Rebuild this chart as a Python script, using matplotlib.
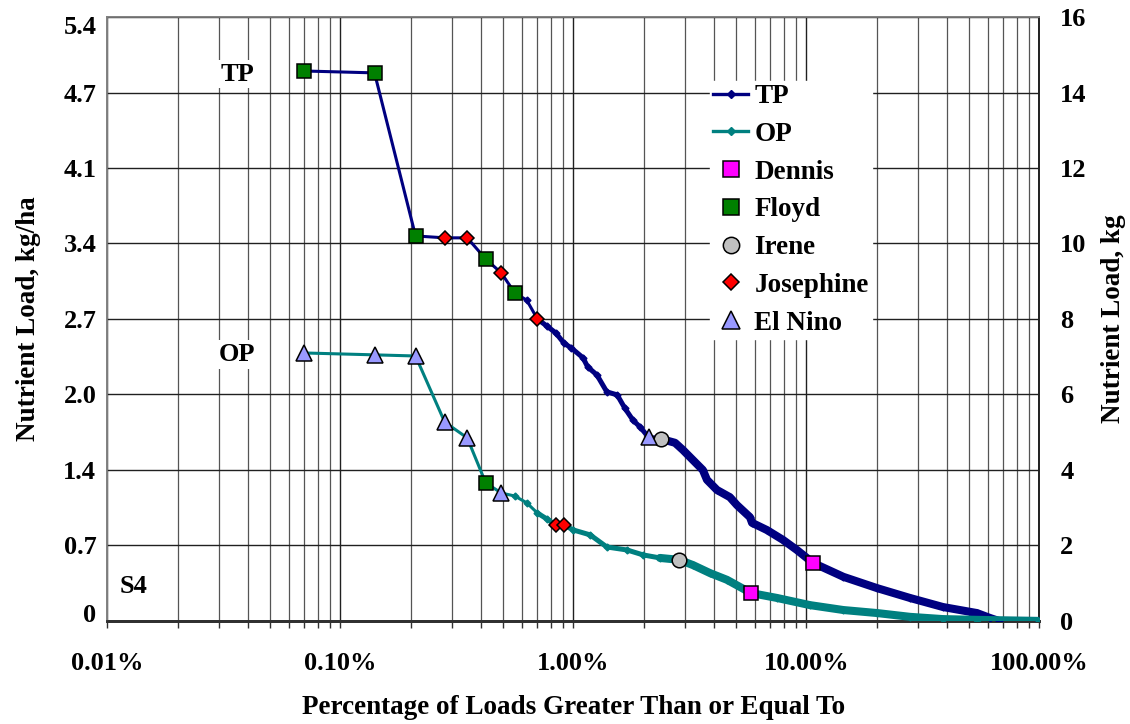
import numpy as np
import matplotlib
matplotlib.use("Agg")
import matplotlib.pyplot as plt
from matplotlib.ticker import FixedLocator, FixedFormatter, LogLocator, NullFormatter
from matplotlib.lines import Line2D
from matplotlib.transforms import ScaledTranslation

plt.rcParams['font.family'] = ['Liberation Serif', 'DejaVu Serif']
plt.rcParams['font.weight'] = 'bold'

# Exceedance curves: percentage of loads >= value, load in kg
tp_pct = [0.07, 0.14, 0.21, 0.28, 0.35, 0.42, 0.49, 0.56, 0.63, 0.70,
          0.77, 0.84, 0.91, 0.98, 1.10, 1.15, 1.26, 1.39, 1.54, 1.66,
          1.80, 1.93, 2.10, 2.38, 2.73, 2.95, 3.26, 3.59, 3.74, 4.13,
          4.69, 5.03, 5.72, 5.84, 6.76, 7.92, 9.10, 10.66, 14.4, 20.1,
          27.8, 38.5, 53.9, 61.3, 67.0, 100.0]
tp_kg = [14.57, 14.52, 10.20, 10.15, 10.15, 9.59, 9.22, 8.69, 8.50, 8.00,
         7.81, 7.63, 7.36, 7.23, 6.97, 6.73, 6.52, 6.07, 5.99, 5.64,
         5.32, 5.14, 4.87, 4.82, 4.72, 4.53, 4.26, 4.00, 3.74, 3.47,
         3.28, 3.07, 2.75, 2.60, 2.41, 2.15, 1.88, 1.54, 1.17, 0.87,
         0.61, 0.37, 0.21, 0.08, 0.0, 0.0]

op_pct = [0.07, 0.14, 0.21, 0.28, 0.35, 0.42, 0.49, 0.56, 0.63, 0.70,
          0.77, 0.84, 0.91, 1.00, 1.18, 1.39, 1.70, 1.99, 2.35, 2.84,
          3.26, 3.85, 4.56, 5.78, 7.47, 10.35, 14.4, 20.1, 27.8, 38.5,
          53.9, 100.0]
op_kg = [7.10, 7.05, 7.02, 5.27, 4.85, 3.66, 3.39, 3.31, 3.13, 2.86,
         2.70, 2.54, 2.54, 2.41, 2.28, 1.96, 1.88, 1.75, 1.67, 1.62,
         1.48, 1.27, 1.09, 0.74, 0.61, 0.42, 0.29, 0.21, 0.11, 0.05,
         0.03, 0.0]

# Storm events flagged on each curve (percent positions)
tp_events = {
    'Dennis': [10.66],
    'Floyd': [0.07, 0.14, 0.21, 0.42, 0.56],
    'Irene': [2.38],
    'Josephine': [0.28, 0.35, 0.49, 0.70],
    'El Nino': [2.10],
}
op_events = {
    'Dennis': [5.78],
    'Floyd': [0.42],
    'Irene': [2.84],
    'Josephine': [0.84, 0.91],
    'El Nino': [0.07, 0.14, 0.21, 0.28, 0.35, 0.49],
}

event_style = {
    'Dennis': dict(marker='s', color='#FF00FF', ms=10.5),
    'Floyd': dict(marker='s', color='#008000', ms=10.5),
    'Irene': dict(marker='o', color='#C0C0C0', ms=10.5),
    'Josephine': dict(marker='D', color='#FF0000', ms=7.5),
    'El Nino': dict(marker='^', color='#9999FF', ms=11.5),
}

x_ticks = [0.01, 0.1, 1, 10, 100]
x_labels = ['0.01%', '0.10%', '1.00%', '10.00%', '100.00%']
kg_ticks = [0, 2, 4, 6, 8, 10, 12, 14, 16]
kgha_labels = ['0', '0.7', '1.4', '2.0', '2.7', '3.4', '4.1', '4.7', '5.4']
KG_TO_KGHA = 5.4 / 16.0

TP_COLOR = '#000080'
OP_COLOR = '#008080'

fig = plt.figure(figsize=(11.3, 7.24), dpi=100)
ax = fig.add_axes([0.0951, 0.1423, 0.8248, 0.8342])
ax2 = ax.twinx()

ax.set_xscale('log')
ax.set_xlim(0.01, 100)
ax.set_ylim(0, 16 * KG_TO_KGHA)
ax2.set_ylim(0, 16)

# vertical grid on every decade subdivision
ax.xaxis.set_major_locator(FixedLocator(x_ticks))
ax.xaxis.set_major_formatter(FixedFormatter(x_labels))
ax.xaxis.set_minor_locator(LogLocator(base=10, subs=np.arange(2, 10)))
ax.xaxis.set_minor_formatter(NullFormatter())
ax.grid(which='major', axis='x', color='#202020', lw=1.0)
ax.grid(which='minor', axis='x', color='#555555', lw=0.9)
ax.tick_params(axis='x', which='both', direction='out', length=5, width=1.0,
               color='#303030', pad=17, labelsize=19)

ax.yaxis.set_major_locator(FixedLocator([v * KG_TO_KGHA for v in kg_ticks]))
ax.yaxis.set_major_formatter(FixedFormatter(kgha_labels))
ax.tick_params(axis='y', length=0, pad=8, labelsize=19)

# keep the end labels of the left scale inside the frame
yticks = ax.yaxis.get_major_ticks(len(kg_ticks))
for tk, dy in ((yticks[0], 8), (yticks[-1], -8)):
    tk.label1.set_transform(tk.label1.get_transform()
                            + ScaledTranslation(0, dy / 100, fig.dpi_scale_trans))

ax2.yaxis.set_major_locator(FixedLocator(kg_ticks))
ax2.tick_params(axis='y', length=0, pad=15, labelsize=19)
ax2.grid(axis='y', color='#202020', lw=1.0)
ax2.set_axisbelow(True)

for a in (ax, ax2):
    for side in ('left', 'top'):
        a.spines[side].set_color('#808080')
        a.spines[side].set_linewidth(1.2)
    a.spines['bottom'].set_color('#303030')
    a.spines['bottom'].set_linewidth(2.0)
    a.spines['right'].set_color('#202020')
    a.spines['right'].set_linewidth(1.2)


def draw_curve(pct, kg, color, z):
    pct = np.asarray(pct)
    kg = np.asarray(kg)
    ax2.plot(pct, kg, color=color, lw=2.2, marker='D', ms=3.5,
             mec=color, mfc=color, zorder=z, solid_joinstyle='round')
    # closely spaced ranks merge into a solid band
    mid = pct >= 0.7
    ax2.plot(pct[mid], kg[mid], color=color, lw=3.6, zorder=z,
             solid_capstyle='round', solid_joinstyle='round')
    dense = pct >= 2.3
    ax2.plot(pct[dense], kg[dense], color=color, lw=5.8, zorder=z,
             solid_capstyle='round', solid_joinstyle='round')


draw_curve(tp_pct, tp_kg, TP_COLOR, 3)
draw_curve(op_pct, op_kg, OP_COLOR, 4)


def draw_events(pct, kg, events):
    pct = np.asarray(pct)
    kg = np.asarray(kg)
    for name, xs in events.items():
        st = event_style[name]
        ys = [kg[np.argmin(np.abs(pct - x))] for x in xs]
        ax2.plot(xs, ys, ls='none', marker=st['marker'], ms=st['ms'],
                 mfc=st['color'], mec='black', mew=1.1, zorder=6)


draw_events(tp_pct, tp_kg, tp_events)
draw_events(op_pct, op_kg, op_events)

# legend
handles = [
    Line2D([], [], color=TP_COLOR, lw=2.4, marker='D', ms=4),
    Line2D([], [], color=OP_COLOR, lw=2.4, marker='D', ms=4),
]
labels = ['TP', 'OP']
for name in ['Dennis', 'Floyd', 'Irene', 'Josephine', 'El Nino']:
    st = event_style[name]
    handles.append(Line2D([], [], ls='none', marker=st['marker'],
                          ms=st['ms'] * 1.12, mfc=st['color'], mec='black',
                          mew=1.1))
    labels.append(name)
leg = ax2.legend(handles, labels, loc='upper left',
                 bbox_to_anchor=(710 / 1130, 1 - 81 / 724),
                 bbox_transform=fig.transFigure, frameon=True, fancybox=False,
                 edgecolor='white', facecolor='white', framealpha=1.0,
                 prop={'family': 'Liberation Serif', 'weight': 'bold', 'size': 19.5},
                 handlelength=1.3, handletextpad=0.22, labelspacing=0.47,
                 borderpad=0.12, borderaxespad=0)
leg.set_zorder(10)

box = dict(facecolor='white', edgecolor='none', pad=2)
ax2.text(0.036, 14.49, 'TP', fontsize=19, fontweight='bold', ha='center',
         va='center', bbox=box, zorder=7)
ax2.text(0.036, 7.05, 'OP', fontsize=19, fontweight='bold', ha='center',
         va='center', bbox=box, zorder=7)
ax2.text(0.0113, 0.92, 'S4', fontsize=19, fontweight='bold', ha='left',
         va='center', zorder=7)

ax.set_xlabel('Percentage of Loads Greater Than or Equal To', fontsize=19.5,
              fontweight='bold', labelpad=15)
ax.set_ylabel('Nutrient Load, kg/ha', fontsize=19.5, fontweight='bold', labelpad=16)
ax2.set_ylabel('Nutrient Load, kg', fontsize=19.5, fontweight='bold', labelpad=10)

fig.savefig('out.png', dpi=100, facecolor='white')
